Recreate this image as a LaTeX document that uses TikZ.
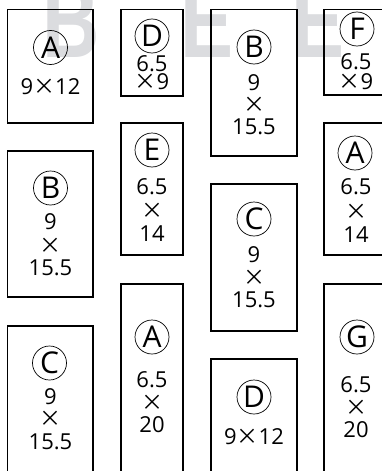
\documentclass[tikz,border=0pt]{standalone}
\usepackage{fontspec}
\setmainfont{Open Sans}
\newfontfamily\wmfont{Liberation Sans}
\newfontfamily\cjk[RawFeature=+fwid]{Noto Sans CJK JP}
\newcommand{\tms}{{\cjk ×}}
\definecolor{wm}{RGB}{219,220,223}
\begin{document}
\begin{tikzpicture}[x=1pt,y=-1pt,
 box/.style={draw, line width=1.5pt, inner sep=0pt},
 circ/.style={circle, draw, line width=0.7pt, minimum size=34pt, inner sep=0pt, font=\fontsize{30}{30}\selectfont},
 num/.style={inner sep=0pt, text height=15.5pt, text depth=0pt, font=\fontsize{22}{22}\selectfont},
 wmark/.style={inner sep=0pt, text=wm, font=\wmfont\bfseries\fontsize{106}{106}\selectfont, xscale=0.75, anchor=base west}]
\useasboundingbox (0,0) rectangle (382,471);
\begin{scope}
\clip (0,0) rectangle (382,471);
% watermark
\node[wmark] (w1) at (42,57) {B};
\node[wmark] (w2) at (180,57) {E};
\node[wmark] (w3) at (291,57) {E};
% column 1
\node[box, minimum width=85.5pt, minimum height=113.5pt] (b11) at (50.25,66.25) {};
\node[box, minimum width=85.5pt, minimum height=146pt] (b12) at (50.25,224) {};
\node[box, minimum width=85.5pt, minimum height=160pt] (b13) at (50.25,406) {};
% column 2
\node[box, minimum width=62pt, minimum height=86.5pt] (b21) at (152,52.75) {};
\node[box, minimum width=62pt, minimum height=132pt] (b22) at (152,189) {};
\node[box, minimum width=62pt, minimum height=200pt] (b23) at (152,384) {};
% column 3
\node[box, minimum width=86pt, minimum height=146.5pt] (b31) at (254,82.75) {};
\node[box, minimum width=86pt, minimum height=147pt] (b32) at (254,257.5) {};
\node[box, minimum width=86pt, minimum height=130pt] (b33) at (254,424) {};
% column 4
\node[box, minimum width=62pt, minimum height=85.5pt] (b41) at (355,52.25) {};
\node[box, minimum width=62pt, minimum height=132pt] (b42) at (355,189) {};
\node[box, minimum width=62pt, minimum height=200pt] (b43) at (355,384) {};
% texts column 1
\node[circ] (c11) at (50.5,47.5) {A};
\node[num] (t11a) at (50.5,87) {9\tms12};
\node[circ] (c12) at (50.5,188) {B};
\node[num] (t12a) at (50.5,222) {9};
\node[num] (t12b) at (50.5,246) {\tms};
\node[num] (t12c) at (50.5,268) {15.5};
\node[circ] (c13) at (49.5,363) {C};
\node[num] (t13a) at (50.5,397) {9};
\node[num] (t13b) at (50.5,419) {\tms};
\node[num] (t13c) at (50.5,442) {15.5};
% texts column 2
\node[circ] (c21) at (152,36) {D};
\node[num] (t21a) at (152,64) {6.5};
\node[num] (t21b) at (152,82) {\tms9};
\node[circ] (c22) at (152,150) {E};
\node[num] (t22a) at (152,187) {6.5};
\node[num] (t22b) at (152,211) {\tms};
\node[num] (t22c) at (152,234) {14};
\node[circ] (c23) at (152,337) {A};
\node[num] (t23a) at (152,380) {6.5};
\node[num] (t23b) at (152,403) {\tms};
\node[num] (t23c) at (152,425) {20};
% texts column 3
\node[circ] (c31) at (254,47) {B};
\node[num] (t31a) at (254,83) {9};
\node[num] (t31b) at (254,105) {\tms};
\node[num] (t31c) at (254,127) {15.5};
\node[circ] (c32) at (254,219) {C};
\node[num] (t32a) at (254,255) {9};
\node[num] (t32b) at (254,278) {\tms};
\node[num] (t32c) at (254,300) {15.5};
\node[circ] (c33) at (254,397) {D};
\node[num] (t33a) at (254,437) {9\tms12};
% texts column 4
\node[circ] (c41) at (357,29) {F};
\node[num] (t41a) at (356,62) {6.5};
\node[num] (t41b) at (356,82) {\tms9};
\node[circ] (c42) at (355,153) {A};
\node[num] (t42a) at (356,187) {6.5};
\node[num] (t42b) at (356,212) {\tms};
\node[num] (t42c) at (356,235) {14};
\node[circ] (c43) at (357,337) {G};
\node[num] (t43a) at (356,385) {6.5};
\node[num] (t43b) at (356,408) {\tms};
\node[num] (t43c) at (356,430) {20};
\end{scope}
\end{tikzpicture}
\end{document}
